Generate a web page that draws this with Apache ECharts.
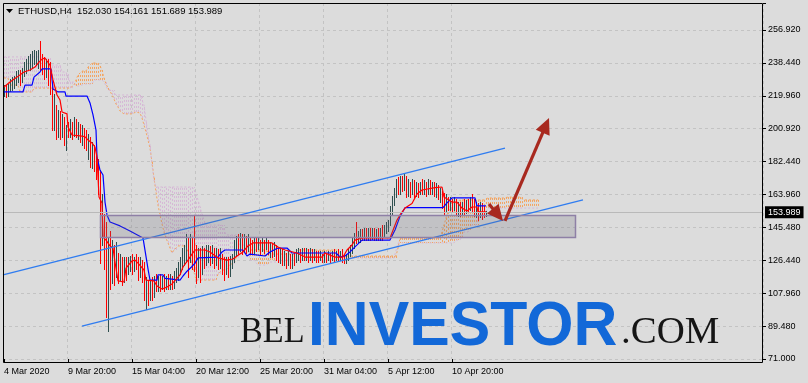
<!DOCTYPE html>
<html>
<head>
<meta charset="utf-8">
<script src="https://cdn.jsdelivr.net/npm/echarts@6/dist/echarts.min.js"></script>
<style>
html,body{margin:0;padding:0;background:#dcdcdc;}
#chart{width:808px;height:383px;}
</style>
</head>
<body>
<div id="chart"></div>
<script>
// ---------------- DATA ----------------
const symbolName = 'ETHUSD';
const timeframe = 'H4';
const xTickLabels = ['4 Mar 2020','9 Mar 20:00','15 Mar 04:00','20 Mar 12:00','25 Mar 20:00','31 Mar 04:00','5 Apr 12:00','10 Apr 20:00'];
const yTickLabels = ['71.000','89.480','107.960','126.440','145.480','163.960','182.440','200.920','219.960','238.440','256.920'];

// H4 bars: [open, close, low, high]
const ohlc = [
[220.2,224.1,219.1,225.8],[224.1,220.2,218.5,225.3],[220.2,224.1,219.6,226.4],[224.1,227.5,221.9,228.7],[227.5,228.7,223.0,229.8],
[225.8,228.7,224.1,230.9],[225.8,231.5,225.3,233.2],[231.5,233.2,227.5,234.3],[233.2,228.7,225.8,234.3],[228.7,234.3,227.5,235.4],
[234.3,237.1,230.9,238.8],[237.1,238.8,232.1,240.0],[238.8,241.1,234.3,242.2],[236.6,241.1,234.3,242.8],[236.6,242.8,235.4,244.5],
[242.8,244.5,237.7,245.6],[238.8,244.5,236.6,244.5],[238.8,243.4,235.4,245.6],[243.4,236.6,234.3,250.7],[236.6,234.3,231.5,242.8],
[234.3,231.5,228.7,241.1],[231.5,237.1,229.8,240.0],[237.1,229.8,225.8,240.0],[229.8,224.1,220.2,238.3],[224.1,203.2,200.4,225.8],
[203.2,211.7,200.4,220.2],[211.7,200.4,194.8,214.5],[200.4,207.2,195.9,211.7],[207.2,197.6,194.8,210.6],[197.6,206.1,195.9,208.9],
[206.1,195.9,191.9,207.2],[195.9,201.5,189.1,203.2],[201.5,198.1,195.9,204.9],[198.1,203.2,195.9,206.1],[203.2,199.3,194.8,204.9],
[199.3,204.9,197.0,207.2],[204.9,200.4,195.9,206.1],[200.4,202.7,194.8,204.9],[202.7,197.0,193.6,203.8],[197.0,200.4,191.9,202.7],
[200.4,194.8,190.2,201.5],[194.8,191.4,189.1,200.4],[191.4,194.8,183.5,197.6],[194.8,183.5,179.5,195.9],[183.5,189.1,178.9,193.6],
[189.1,180.6,176.7,191.9],[180.6,175.0,172.2,186.3],[175.0,166.5,163.7,183.5],[166.5,135.4,125.2,177.8],[135.4,152.4,135.4,163.7],
[152.4,129.8,121.3,152.4],[129.8,104.3,94.7,147.9],[104.3,132.6,86.3,139.9],[132.6,118.5,110.0,142.8],[118.5,132.6,113.9,138.2],
[132.6,118.5,112.8,135.4],[118.5,129.8,117.3,136.6],[129.8,116.8,113.9,130.9],[116.8,125.8,115.6,129.8],[125.8,115.6,112.8,128.6],
[115.6,125.8,114.5,128.6],[125.8,120.2,115.6,128.6],[120.2,125.8,118.5,128.1],[125.8,126.9,120.2,129.2],[126.9,121.3,118.5,129.8],
[121.3,125.8,120.2,128.6],[125.8,123.6,121.3,129.8],[123.6,118.5,115.6,128.1],[118.5,124.1,116.8,128.1],[124.1,116.8,114.5,126.9],
[116.8,110.0,104.3,125.8],[110.0,112.8,98.7,117.3],[112.8,105.5,101.5,115.6],[105.5,111.1,104.3,115.6],[111.1,107.2,104.3,116.8],
[107.2,112.8,106.0,117.9],[112.8,110.0,108.9,118.5],[110.0,115.6,108.9,117.9],[115.6,111.1,108.9,119.0],[111.1,114.5,110.0,117.9],
[114.5,111.1,108.9,118.5],[111.1,115.6,110.0,117.9],[115.6,112.3,110.0,119.0],[112.3,116.2,110.5,118.5],[116.2,111.7,110.0,117.9],
[111.7,117.9,111.1,120.2],[117.9,121.3,114.5,122.4],[121.3,124.1,115.6,125.8],[124.1,126.9,118.5,128.1],[126.9,131.5,121.3,133.7],
[131.5,133.7,124.1,135.4],[133.7,138.2,125.8,141.1],[138.2,125.8,117.3,139.9],[125.8,137.1,125.8,141.1],[137.1,128.1,121.3,139.4],
[128.1,125.8,120.2,151.3],[125.8,121.3,113.9,135.4],[121.3,129.8,116.8,133.7],[129.8,120.2,114.5,133.7],[120.2,129.8,119.0,134.3],
[129.8,125.8,122.4,133.7],[125.8,131.5,123.6,134.9],[131.5,132.6,125.8,135.4],[132.6,126.9,123.6,134.3],[126.9,131.5,124.7,134.9],
[131.5,125.8,122.4,133.7],[125.8,129.8,124.1,133.7],[129.8,124.1,121.3,132.6],[124.1,129.2,122.4,133.7],[129.2,122.4,118.5,129.8],
[122.4,120.2,115.6,128.1],[120.2,125.8,118.5,128.6],[125.8,121.3,116.8,128.1],[121.3,125.8,117.9,129.2],[125.8,128.1,122.4,130.3],
[128.1,135.4,125.8,138.2],[135.4,138.2,129.2,140.5],[138.2,133.7,130.3,141.6],[133.7,138.2,131.5,142.2],[138.2,132.6,129.8,141.1],
[132.6,137.1,131.5,141.6],[137.1,133.7,130.9,140.5],[133.7,138.2,131.5,141.1],[138.2,132.6,130.3,139.4],[132.6,131.5,129.8,138.2],
[131.5,135.4,130.9,139.4],[135.4,133.7,131.5,139.9],[133.7,137.1,132.6,139.4],[137.1,132.6,129.8,138.2],[132.6,136.0,131.5,139.4],
[136.0,132.6,130.9,138.2],[132.6,136.6,132.6,139.4],[136.6,131.5,129.8,138.2],[131.5,133.7,128.6,136.6],[133.7,130.3,128.1,136.0],
[130.3,133.2,129.2,136.6],[133.2,129.2,126.9,135.4],[129.2,128.1,125.8,133.7],[128.1,130.3,125.2,133.2],[130.3,125.8,124.1,132.6],
[125.8,128.1,123.6,131.5],[128.1,124.1,122.4,130.9],[124.1,128.6,123.6,131.5],[128.6,123.6,122.4,130.3],[123.6,126.9,122.4,129.8],
[126.9,125.8,123.6,130.9],[125.8,130.3,125.8,132.6],[130.3,131.5,126.9,133.7],[131.5,128.1,125.8,132.6],[128.1,131.5,126.9,133.2],
[131.5,129.2,126.9,133.7],[129.2,131.5,126.4,133.2],[131.5,128.1,125.8,132.6],[128.1,130.9,126.9,133.2],[130.9,127.5,125.8,132.6],
[127.5,130.3,126.4,132.6],[130.3,128.1,125.8,132.0],[128.1,126.9,125.8,131.5],[126.9,129.8,126.4,131.5],[129.8,126.9,125.8,130.3],
[126.9,129.8,125.8,131.5],[129.8,127.5,125.8,130.9],[127.5,130.3,126.4,131.5],[130.3,128.1,125.8,130.9],[128.1,130.3,126.4,131.5],
[130.3,127.5,125.8,132.6],[127.5,130.9,126.9,131.5],[130.9,129.2,126.9,132.6],[129.2,131.5,126.4,132.0],[131.5,128.1,125.8,132.6],
[128.1,126.9,125.2,129.8],[126.9,129.2,125.2,130.3],[129.2,131.5,126.9,132.6],[131.5,133.7,129.2,135.4],[133.7,138.2,130.9,139.4],
[138.2,140.5,133.7,142.2],[140.5,138.2,136.0,148.4],[138.2,141.6,137.1,142.8],[141.6,142.8,137.1,143.9],[142.8,139.4,137.7,143.9],
[139.4,142.8,138.2,144.5],[142.8,140.5,138.2,145.0],[140.5,142.8,138.2,144.5],[142.8,139.9,138.2,145.0],[139.9,142.2,138.8,144.5],
[142.2,139.9,138.2,145.0],[139.9,142.8,138.2,143.9],[142.8,139.9,137.7,144.5],[139.9,142.2,138.2,145.0],[142.2,140.5,138.2,146.2],
[140.5,143.9,139.4,146.7],[143.9,146.2,142.2,148.4],[146.2,148.4,142.8,149.5],[148.4,155.2,146.2,156.9],[155.2,160.9,152.9,163.1],
[160.9,165.4,158.0,167.6],[165.4,169.9,162.0,172.2],[169.9,166.5,164.2,173.3],[166.5,172.2,163.7,174.4],[172.2,168.8,165.4,173.9],
[168.8,173.3,166.5,175.0],[173.3,166.5,162.0,173.9],[166.5,169.9,163.1,172.2],[169.9,165.4,162.0,171.0],[165.4,169.3,163.7,172.2],
[169.3,165.4,162.5,171.6],[165.4,167.6,163.1,170.5],[167.6,164.8,162.5,169.9],[164.8,168.8,163.7,171.0],[168.8,166.5,163.7,172.2],
[166.5,169.9,164.2,171.6],[169.9,166.5,163.1,171.0],[166.5,169.3,164.2,172.2],[169.3,166.5,163.7,171.6],[166.5,168.8,164.2,171.0],
[168.8,165.4,163.1,170.5],[165.4,167.6,162.5,169.9],[167.6,163.1,160.9,168.8],[163.1,165.4,159.7,167.6],[165.4,158.6,156.3,165.4],
[158.6,155.2,152.4,164.8],[155.2,159.7,154.1,163.7],[159.7,157.5,155.2,162.0],[157.5,160.9,155.2,162.5],[160.9,156.9,154.1,160.9],
[156.9,159.7,155.2,162.0],[159.7,155.2,152.9,160.9],[155.2,158.0,151.8,159.7],[158.0,154.1,151.3,159.2],[154.1,157.5,152.4,159.7],
[157.5,155.2,152.9,160.9],[155.2,158.6,153.5,160.3],[158.6,156.3,154.1,160.9],[156.3,159.7,155.2,162.0],[159.7,156.3,154.1,163.7],
[156.3,154.1,151.3,160.9],[154.1,156.9,150.7,159.7],[156.9,152.9,149.5,158.6],[152.9,156.3,150.7,159.2],[156.3,152.9,150.1,158.6],
[152.9,152.03,150.7,156.9],[152.03,153.989,151.689,154.161]
];

// Ichimoku Tenkan-sen (red) and Kijun-sen (blue): [bar index, price]
const tenkan = [[0,224.7],[3,227.5],[6.5,230.3],[10,233.2],[13,234.3],[15.5,236.0],[17.5,238.8],[19,240.5],[20.5,241.1],[21.5,239.4],[23,237.1],[24.5,228.7],[26.5,220.2],[28,217.4],[29,210.6],[31.5,209.5],[32,202.1],[34,197.6],[39,197.0],[40.5,196.5],[42,194.8],[44,193.1],[45.5,190.8],[46.5,185.2],[47,173.9],[47.5,162.5],[49,159.2],[49.5,139.9],[51,138.2],[53,134.9],[54.5,133.7],[55.5,125.8],[57,115.1],[60,114.5],[61,122.4],[64,126.4],[65.5,126.9],[67,125.2],[70,121.3],[71,115.6],[75,115.1],[76.5,112.3],[79,110.5],[81.5,111.7],[84,113.4],[88,118.5],[89.5,123.0],[92,126.9],[94,130.3],[95.5,132.6],[100.5,132.6],[103,131.5],[107,128.1],[111.5,126.9],[114.5,127.5],[116.5,129.2],[119.5,131.5],[122,134.9],[124.5,136.6],[134,136.6],[137,134.3],[140.5,132.6],[146.5,130.9],[150.5,128.6],[159,128.6],[160.5,130.9],[165.5,128.6],[169.5,128.6],[171.5,132.6],[174,135.4],[175.5,138.2],[179,139.4],[193,139.4],[196.5,149.5],[198,152.4],[200.5,156.3],[204,158.9],[206.5,164.2],[209,166.5],[215.5,167.8],[219,168.2],[220,162.5],[224,159.7],[226.5,159.7],[229,156.3],[231.5,154.6],[234,156.9],[236.5,156.9],[237,154.1],[241,154.1]];
const kijun = [[0,221.9],[9.5,221.9],[10.5,225.8],[14,225.8],[15,230.3],[18,233.2],[19,234.9],[23.5,234.9],[24.5,223.6],[27,221.9],[30.5,221.9],[31,219.6],[41.5,219.6],[43,215.7],[44.5,208.9],[46,200.4],[46.5,185.2],[48,177.8],[49.5,175.0],[50.5,159.7],[51.5,152.4],[53,148.4],[58,146.2],[63,143.3],[69.5,139.4],[72,121.9],[73,115.6],[76.5,115.6],[77,118.5],[79.5,118.5],[80.5,116.6],[88,115.6],[89.5,117.9],[91.5,120.6],[94,123.3],[95.5,125.2],[97,128.1],[107,128.6],[109,131.5],[110.5,132.6],[119.5,132.6],[121.5,129.2],[123,130.3],[124,129.2],[130.5,129.2],[133,131.5],[137,133.7],[141.5,133.7],[144,130.9],[166,130.9],[168,128.6],[170.5,129.2],[173,131.5],[176,134.9],[179,138.2],[193,138.2],[195.5,143.9],[198,151.6],[200.5,156.5],[219.5,156.5],[221.5,159.2],[224,162.0],[235.5,162.0],[236.5,157.5],[241,157.5]];

// Senkou Span A (sandy brown) and Span B (thistle), one value per bar (cloud runs 26 bars ahead)
const spanA = [
229.8,229.8,229.8,225.8,225.8,225.8,225.8,225.8,221.9,221.9,
221.9,221.9,221.9,221.9,221.9,224.1,224.1,224.1,224.1,224.1,
224.1,224.1,224.1,224.1,224.1,224.1,224.1,224.1,224.1,224.1,
224.1,224.1,224.1,224.1,224.1,225.8,228.7,231.5,231.5,233.7,
233.7,233.7,236.0,236.0,238.3,238.3,238.3,238.3,236.6,234.3,
229.8,226.4,224.1,222.4,220.2,217.9,215.1,213.4,211.1,211.1,
209.5,209.5,209.5,209.5,209.5,210.6,210.6,210.6,210.0,207.2,
203.2,199.3,194.8,190.2,182.3,173.3,165.4,158.0,152.4,147.3,
142.8,139.4,136.6,133.7,130.9,132.6,132.6,134.9,134.9,134.9,
134.9,134.9,131.5,128.1,124.1,120.2,115.6,115.6,115.6,115.6,
115.6,115.6,115.6,115.6,115.6,115.6,115.6,119.0,119.0,121.3,
121.3,121.3,121.3,124.7,124.7,124.7,128.1,128.1,130.9,130.9,
130.9,130.9,130.9,132.6,132.6,132.6,132.6,132.6,132.6,132.6,
132.6,132.6,132.6,130.3,130.3,130.3,130.3,130.3,130.3,130.3,
130.3,130.3,130.3,130.3,130.3,130.3,130.3,132.6,132.6,132.6,
132.6,132.6,132.6,132.6,132.6,132.6,132.6,132.6,132.6,132.6,
132.6,132.6,132.6,132.6,132.6,132.6,132.6,132.6,129.2,129.2,
129.2,129.2,129.2,129.2,129.2,129.2,129.2,129.2,129.2,129.2,
129.2,129.2,129.2,129.2,129.2,129.2,129.2,129.2,129.2,129.2,
129.2,129.2,129.2,129.2,129.2,129.2,129.2,133.7,139.4,139.4,
139.4,139.4,139.4,139.4,139.4,139.4,139.4,139.4,139.4,139.4,
139.4,139.4,139.4,139.4,139.4,139.4,139.4,139.4,139.4,142.8,
146.7,150.7,154.1,156.9,159.2,159.2,159.2,159.2,160.9,160.9,
160.9,160.9,160.9,160.9,160.9,160.9,160.9,160.9,160.9,160.9,
160.9,162.0,162.0,162.0,162.0,162.0,162.0,162.0,162.0,162.0,
162.0,162.5,162.5,162.5,162.5,162.5,162.5,162.5,162.5,162.5,
160.9,160.9,160.9,160.9,160.9,160.9,160.9,160.9
];
const spanB = [
241.7,241.7,241.7,241.7,241.7,241.7,241.7,241.7,241.7,241.7,
241.7,241.7,241.7,241.7,241.7,241.7,241.7,241.7,241.7,241.1,
241.1,241.1,241.1,241.1,237.1,237.1,237.1,237.1,237.1,233.2,
233.2,233.2,233.2,227.5,227.5,227.5,225.3,225.3,225.3,226.4,
226.4,226.4,226.4,226.4,226.4,228.7,228.7,228.7,228.7,228.7,
227.5,227.5,223.0,223.0,223.0,223.0,220.2,220.2,220.2,220.2,
220.2,220.2,220.2,220.2,220.2,220.2,220.2,220.2,220.2,220.2,
214.5,206.1,197.6,191.9,180.6,172.2,168.2,168.2,168.2,168.2,
168.2,168.2,168.2,168.2,168.2,168.2,168.2,168.2,168.2,168.2,
168.2,168.2,168.2,168.2,168.2,168.2,164.8,160.9,156.9,152.9,
149.5,146.7,146.7,146.7,146.7,146.7,146.7,146.7,146.7,146.7,
146.7,141.1,141.1,141.1,141.1,141.1,141.1,141.1,135.4,135.4,
135.4,135.4,135.4,126.9,126.9,126.9,126.9,124.1,124.1,124.1,
124.1,124.1,124.1,125.8,125.8,125.8,125.8,125.8,125.8,125.8,
125.8,126.9,126.9,126.9,126.9,126.9,126.9,126.9,126.9,126.9,
126.9,126.9,126.9,126.9,126.9,126.9,126.9,126.9,126.9,126.9,
126.9,126.9,126.9,126.9,126.9,126.9,126.9,126.9,126.9,126.9,
126.9,128.1,128.1,128.1,128.1,128.1,128.1,128.1,128.1,128.1,
128.1,128.1,128.1,128.1,128.1,128.1,128.1,128.1,128.1,128.1,
128.1,128.1,128.1,128.1,128.1,128.1,128.1,136.6,136.6,136.6,
136.6,136.6,136.6,136.6,136.6,136.6,136.6,136.6,136.6,136.6,
136.6,136.6,136.6,136.6,136.6,136.6,136.6,136.6,136.6,136.6,
136.6,136.6,136.6,136.6,136.6,136.6,138.2,138.2,138.2,138.2,
142.8,142.8,142.8,142.8,146.7,146.7,146.7,146.7,152.4,152.4,
152.4,152.4,156.3,156.3,156.3,156.3,156.3,156.3,156.3,156.3,
156.3,156.3,156.3,156.3,156.3,156.3,156.3,156.3,156.3,156.3,
156.3,156.3,156.3,156.3,156.3,156.3,156.3,156.3
];

// Drawing objects, in [bar index, price] units
const channelUpper = [[-0.5,118.5],[250.5,190.2]];
const channelLower = [[39,89.6],[289.5,160.9]];
const supportZone = [[48,152.4,285.5,139.9]];
const arrows = [[242.5,158.6,249.5,149.0],[250.5,149.0,272.5,207.2]];

// ---------------- SCALES ----------------
const SLOT_COUNT = 380;
const BARS_PER_LABEL = 32;
const BARS_PER_GRID = 16;
const PRICE_MIN = 71;
const PRICE_STEP = 18.592;
const PRICE_MAX = 272.18;
const LABEL_MAX = (PRICE_MAX - PRICE_MIN) / PRICE_STEP;

const FONT = 'Liberation Sans, Arial, sans-serif';
const slots = Array.from({length: SLOT_COUNT}, (_, i) => String(i));
const labelSlots = xTickLabels.map((_, i) => i * BARS_PER_LABEL);
const barData = ohlc.map((d, i) => [i, d[0], d[1], d[2], d[3]]);
const cloudData = spanA.map((a, i) => [i, a, spanB[i]]);
const last = ohlc[ohlc.length - 1];
const titleText = symbolName + ',' + timeframe + '  ' + last[0].toFixed(3) + ' ' + last[3].toFixed(3) + ' ' + last[2].toFixed(3) + ' ' + last[1].toFixed(3);
const isLabelSlot = (i) => i % BARS_PER_LABEL === 0 && i / BARS_PER_LABEL < xTickLabels.length;

const chart = echarts.init(document.getElementById('chart'), null, {renderer: 'canvas'});

function crisp(v) { return Math.round(v) + 0.5; }

const option = {
  animation: false,
  backgroundColor: '#dcdcdc',
  grid: {left: 3, right: 45, top: 3, bottom: 24, containLabel: false, show: false},
  xAxis: [
    {
      type: 'category', data: slots, boundaryGap: true, position: 'bottom', offset: 3,
      axisLine: {show: false},
      axisTick: {show: true, alignWithLabel: true, length: 3, customValues: labelSlots, interval: (i) => isLabelSlot(i), lineStyle: {color: '#000'}},
      axisLabel: {
        customValues: labelSlots,
        interval: (i) => isLabelSlot(i),
        formatter: (v, i) => { const n = Number(v); return isLabelSlot(n) ? xTickLabels[n / BARS_PER_LABEL] : ''; },
        align: 'left', margin: 5, fontSize: 9, fontFamily: FONT, color: '#000'
      },
      splitLine: {show: true, interval: (i) => i % BARS_PER_GRID === 0, lineStyle: {color: '#c3c3c3', type: [3, 3], width: 1}}
    },
    {type: 'value', min: -0.5, max: SLOT_COUNT - 0.5, show: false}
  ],
  yAxis: [
    {type: 'value', min: PRICE_MIN, max: PRICE_MAX, show: false, splitLine: {show: false}},
    {
      type: 'value', min: 0, max: LABEL_MAX, interval: 1, position: 'right',
      axisLine: {show: false},
      axisTick: {show: true, length: 3, lineStyle: {color: '#000'}},
      axisLabel: {
        margin: 5, fontSize: 9, fontFamily: FONT, color: '#000',
        formatter: (v) => { const r = Math.round(v); return Math.abs(v - r) < 1e-6 && yTickLabels[r] ? yTickLabels[r] : ''; }
      },
      splitLine: {show: true, lineStyle: {color: '#c3c3c3', type: [3, 3], width: 1}}
    }
  ],
  series: [
    {
      name: 'cloud', type: 'custom', xAxisIndex: 1, yAxisIndex: 0, z: 1, silent: true,
      data: cloudData, encode: {x: 0, y: [1, 2]},
      renderItem: (params, api) => {
        const k = api.value(0), a = api.value(1), b = api.value(2);
        const pa = api.coord([k, a]), pb = api.coord([k, b]);
        const x = crisp(pa[0]);
        return {type: 'line', shape: {x1: x, y1: pa[1], x2: x, y2: pb[1]},
          style: {stroke: a >= b ? '#f4a460' : '#d6b8d6', lineWidth: 1, lineDash: [2, 2]}};
      }
    },
    {
      name: 'Senkou Span A', type: 'line', xAxisIndex: 1, yAxisIndex: 0, z: 2, silent: true,
      data: spanA.map((v, i) => [i, v]), showSymbol: false,
      lineStyle: {color: '#f4a460', width: 1, type: [2, 2]}
    },
    {
      name: 'Senkou Span B', type: 'line', xAxisIndex: 1, yAxisIndex: 0, z: 2, silent: true,
      data: spanB.map((v, i) => [i, v]), showSymbol: false,
      lineStyle: {color: '#d6b8d6', width: 1, type: [2, 2]},
      markLine: {
        silent: true, symbol: 'none',
        data: [{yAxis: last[1]}],
        lineStyle: {color: '#b9b9b9', type: 'solid', width: 1},
        label: {position: 'end', distance: 2, formatter: last[1].toFixed(3), backgroundColor: '#000', color: '#fff',
          padding: [2, 3, 1, 3], fontSize: 9, fontFamily: FONT}
      }
    },
    {
      name: 'bars', type: 'custom', xAxisIndex: 1, yAxisIndex: 0, z: 3, silent: true,
      data: barData, encode: {x: 0, y: [1, 2, 3, 4]},
      renderItem: (params, api) => {
        const k = api.value(0), o = api.value(1), c = api.value(2), l = api.value(3), h = api.value(4);
        const pl = api.coord([k, l]), ph = api.coord([k, h]);
        const x = crisp(pl[0]);
        return {type: 'line', shape: {x1: x, y1: Math.floor(ph[1]), x2: x, y2: Math.ceil(pl[1])},
          style: {stroke: c >= o ? '#2f4f4f' : '#ff0000', lineWidth: 1}};
      }
    },
    {
      name: 'Kijun-sen', type: 'line', xAxisIndex: 1, yAxisIndex: 0, z: 4, silent: true,
      data: kijun, showSymbol: false, lineStyle: {color: '#0000ff', width: 1.2}
    },
    {
      name: 'Tenkan-sen', type: 'line', xAxisIndex: 1, yAxisIndex: 0, z: 4, silent: true,
      data: tenkan, showSymbol: false, lineStyle: {color: '#ff0000', width: 1.2}
    },
    {
      name: 'channel upper', type: 'line', xAxisIndex: 1, yAxisIndex: 0, z: 5, silent: true,
      data: channelUpper, showSymbol: false, lineStyle: {color: '#2f7cf0', width: 1.3}
    },
    {
      name: 'channel lower', type: 'line', xAxisIndex: 1, yAxisIndex: 0, z: 5, silent: true,
      data: channelLower, showSymbol: false, lineStyle: {color: '#2f7cf0', width: 1.3}
    },
    {
      name: 'zone', type: 'custom', xAxisIndex: 1, yAxisIndex: 0, z: 6, silent: true,
      data: supportZone, encode: {x: [0, 2], y: [1, 3]},
      renderItem: (params, api) => {
        const p1 = api.coord([api.value(0), api.value(1)]);
        const p2 = api.coord([api.value(2), api.value(3)]);
        return {type: 'rect', shape: {x: crisp(p1[0]), y: crisp(p1[1]), width: Math.round(p2[0] - p1[0]), height: Math.round(p2[1] - p1[1])},
          style: {fill: 'rgba(105,105,120,0.22)', stroke: '#8e80a6', lineWidth: 1.5}};
      }
    },
    {
      name: 'arrows', type: 'custom', xAxisIndex: 1, yAxisIndex: 0, z: 7, silent: true,
      data: arrows, encode: {x: [0, 2], y: [1, 3]},
      renderItem: (params, api) => {
        const s = api.coord([api.value(0), api.value(1)]);
        const e = api.coord([api.value(2), api.value(3)]);
        const dx = e[0] - s[0], dy = e[1] - s[1];
        const len = Math.sqrt(dx * dx + dy * dy);
        const ux = dx / len, uy = dy / len;
        const L = 16, W = 7.5;
        const bx = e[0] - ux * L, by = e[1] - uy * L;
        const nx = -uy, ny = ux;
        return {type: 'group', children: [
          {type: 'line', shape: {x1: s[0], y1: s[1], x2: bx + ux * 2, y2: by + uy * 2}, style: {stroke: '#a8291f', lineWidth: 3.2}},
          {type: 'polygon', shape: {points: [[e[0], e[1]], [bx + nx * W, by + ny * W], [bx - nx * W, by - ny * W]]}, style: {fill: '#a8291f'}}
        ]};
      }
    }
  ],
  graphic: [
    {type: 'polygon', z: 50, shape: {points: [[6, 9], [13, 9], [9.5, 13]]}, style: {fill: '#000'}},
    {type: 'text', z: 50, x: 18, y: 11, style: {text: titleText, font: '9.5px ' + FONT, fill: '#000', verticalAlign: 'middle'}},
    {type: 'text', z: 50, x: 240, y: 333, scaleX: 0.95, style: {text: 'BEL', font: '36px "Liberation Serif", "Times New Roman", serif', fill: '#151515', verticalAlign: 'middle'}},
    {type: 'text', z: 50, x: 308, y: 328, scaleX: 0.92, scaleY: 0.96, style: {text: 'INVESTOR', font: 'bold 66px ' + FONT, fill: '#1268d8', verticalAlign: 'middle'}},
    {type: 'text', z: 50, x: 621, y: 333, scaleX: 1.05, style: {text: '.COM', font: '37px "Liberation Serif", "Times New Roman", serif', fill: '#151515', verticalAlign: 'middle'}},
    {type: 'rect', z: 100, silent: true, shape: {x: 3.5, y: 3.5, width: 759, height: 359}, style: {fill: 'none', stroke: '#000', lineWidth: 1}}
  ]
};

chart.setOption(option);
</script>
</body>
</html>
